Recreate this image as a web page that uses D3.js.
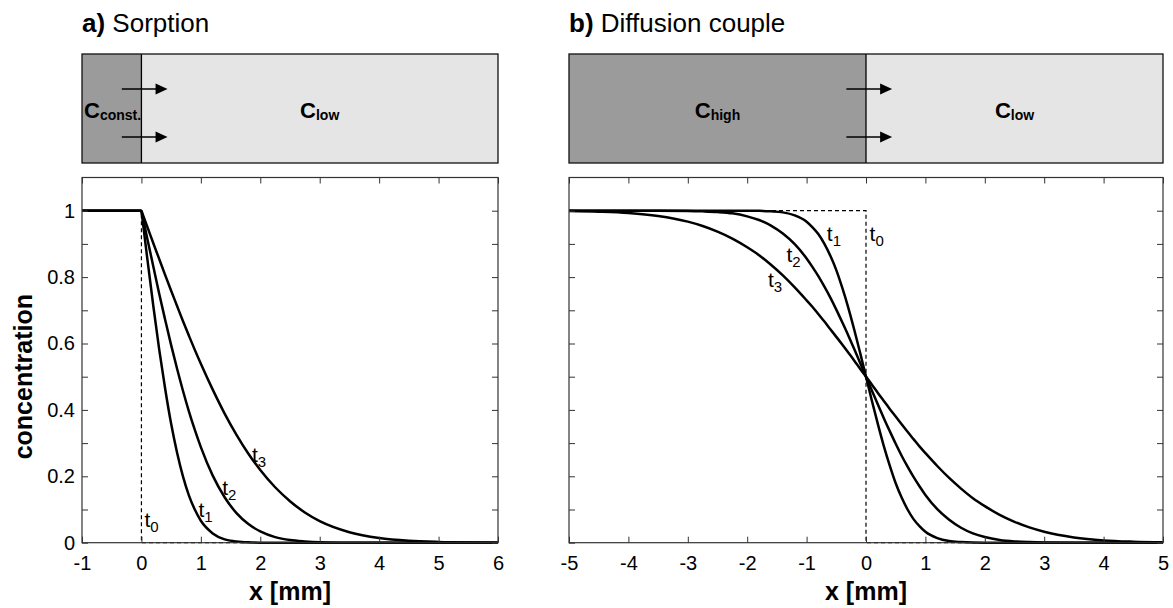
<!DOCTYPE html>
<html><head><meta charset="utf-8">
<script src="https://cdn.jsdelivr.net/npm/d3@7"></script>
<style>
body{margin:0;background:#fff}
text{font-family:Arial,"Liberation Sans",Helvetica,sans-serif;fill:#000}
</style>
</head><body>
<svg id="chart" width="1173" height="608"></svg>
<script>
// ---------- DATA ----------
// a) Sorption
const sorptionX  = [-1, 0, 0.1,0.2,0.3,0.4,0.5,0.6,0.7,0.8,0.9,1.0, 1.2,1.4,1.6,1.8,2.0, 2.25,2.5,2.75,3.0, 3.5,4.0,4.5,5.0,5.5,6.0];
const sorptionT1 = [1, 1, 0.854,0.713,0.581,0.463,0.358,0.271,0.199,0.142,0.099,0.066, 0.028,0.010,0.0036,0.0010,0.0002, 0.0001,0,0,0, 0,0,0,0,0,0];
const sorptionT2 = [1, 1, 0.915,0.832,0.749,0.671,0.595,0.524,0.457,0.395,0.339,0.288, 0.202,0.137,0.089,0.056,0.034, 0.0168,0.0079,0.0038,0.0015, 0.0002,0,0,0,0,0];
const sorptionT3 = [1, 1, 0.951,0.902,0.854,0.806,0.759,0.713,0.667,0.623,0.580,0.539, 0.461,0.389,0.325,0.268,0.219, 0.167,0.125,0.091,0.065, 0.0317,0.0141,0.0058,0.0023,0.0008,0.0002];
const sorptionT0X = [-1, 0, 0, 6];
const sorptionT0Y = [1, 1, 0, 0];

// b) Diffusion couple
const diffX  = [-5,-4.5,-4,-3.5,-3,-2.75,-2.5,-2.25,-2,-1.8,-1.6,-1.4,-1.2,-1,-0.9,-0.8,-0.7,-0.6,-0.5,-0.4,-0.3,-0.2,-0.1,0,
                0.1,0.2,0.3,0.4,0.5,0.6,0.7,0.8,0.9,1,1.2,1.4,1.6,1.8,2,2.25,2.5,2.75,3,3.5,4,4.5,5];
const diffT1 = [1,1,1,1,1,1,1,1,1,0.9995,0.998,0.995,0.986,0.967,0.950,0.929,0.900,0.864,0.821,0.768,0.709,0.643,0.573,0.5,
                0.427,0.357,0.291,0.232,0.179,0.136,0.100,0.071,0.050,0.033,0.014,0.005,0.002,0.0005,0.0001,0,0,0,0,0,0,0,0];
const diffT2 = [1,1,1,0.9999,0.9992,0.998,0.996,0.992,0.983,0.972,0.955,0.931,0.899,0.856,0.830,0.802,0.771,0.738,0.702,0.664,0.625,0.584,0.542,0.5,
                0.458,0.416,0.375,0.336,0.298,0.262,0.229,0.198,0.170,0.144,0.101,0.069,0.045,0.028,0.017,0.0084,0.004,0.0019,0.0008,0.0001,0,0,0];
const diffT3 = [0.999,0.997,0.993,0.984,0.967,0.954,0.937,0.916,0.890,0.866,0.837,0.805,0.769,0.730,0.710,0.688,0.666,0.643,0.620,0.597,0.573,0.549,0.524,0.5,
                0.476,0.451,0.427,0.403,0.380,0.357,0.334,0.312,0.290,0.270,0.231,0.195,0.163,0.134,0.110,0.084,0.063,0.046,0.033,0.016,0.007,0.003,0.001];
const diffT0X = [-5, 0, 0, 5];
const diffT0Y = [1, 1, 0, 0];

// ticks
const sorptionXTicks = [-1,0,1,2,3,4,5,6];
const diffXTicks = [-5,-4,-3,-2,-1,0,1,2,3,4,5];
const yTicks = [0,0.1,0.2,0.3,0.4,0.5,0.6,0.7,0.8,0.9,1.0];
const yTickLabels = ["0","","0.2","","0.4","","0.6","","0.8","","1"];

// curve labels (subscript, anchor in data units)
const sorptionLabelSub = ["0","1","2","3"];
const sorptionLabelX = [0.05, 0.96, 1.36, 1.86];
const sorptionLabelY = [0.048, 0.078, 0.144, 0.244];
const diffLabelSub = ["0","1","2","3"];
const diffLabelX = [0.06, -0.66, -1.34, -1.65];
const diffLabelY = [0.909, 0.909, 0.846, 0.771];

// ---------- DRAW ----------
const svg = d3.select("#chart");
const yTop = 177.5, yBottom = 542.7;
const y = d3.scaleLinear().domain([0, 1.1]).range([yBottom, yTop]);
const boxTop = 54, boxBottom = 163;

function zip(xs, ys){ return xs.map((v,i)=>[v, ys[i]]); }

function panel(opt){
  const x = d3.scaleLinear().domain(opt.domain).range(opt.range);
  const g = svg.append("g");

  // title
  const t = g.append("text").attr("x", opt.range[0]).attr("y", 32).attr("font-size", 26);
  t.append("tspan").attr("font-weight","bold").text(opt.titleBold);
  t.append("tspan").text(" " + opt.title);

  // schematic box
  g.append("rect").attr("x", x(opt.domain[0])).attr("y", boxTop)
    .attr("width", x(opt.domain[1]) - x(opt.domain[0])).attr("height", boxBottom-boxTop)
    .attr("fill", "#e5e5e5");
  g.append("rect").attr("x", x(opt.domain[0])).attr("y", boxTop)
    .attr("width", x(0) - x(opt.domain[0])).attr("height", boxBottom-boxTop)
    .attr("fill", "#9b9b9b");
  g.append("line").attr("x1", x(0)).attr("x2", x(0)).attr("y1", boxTop).attr("y2", boxBottom)
    .attr("stroke","#000").attr("stroke-width",1.3);
  g.append("rect").attr("x", x(opt.domain[0])).attr("y", boxTop)
    .attr("width", x(opt.domain[1]) - x(opt.domain[0])).attr("height", boxBottom-boxTop)
    .attr("fill", "none").attr("stroke","#111").attr("stroke-width",1.3);

  // arrows
  [89, 137].forEach(ay => {
    const x1 = x(-0.33), x2 = x(0.44);
    g.append("line").attr("x1", x1).attr("x2", x2 - 10).attr("y1", ay).attr("y2", ay)
      .attr("stroke","#000").attr("stroke-width",1.6);
    g.append("path").attr("d", `M${x2},${ay} L${x2-12},${ay-5.5} L${x2-12},${ay+5.5} Z`).attr("fill","#000");
  });

  // box labels
  opt.boxLabels.forEach(bl => {
    const tx = g.append("text").attr("x", bl.anchor === "start" ? x(opt.domain[0]) + 2 : x(bl.x))
      .attr("y", 118).attr("text-anchor", bl.anchor).attr("font-weight","bold").attr("font-size", 22);
    tx.append("tspan").text("C");
    tx.append("tspan").attr("font-size", 14).attr("dy", 2).text(bl.sub);
  });

  // t0 dashed
  g.append("path").datum(zip(opt.t0x, opt.t0y))
    .attr("d", d3.line().x(d=>x(d[0])).y(d=>y(d[1])))
    .attr("fill","none").attr("stroke","#000").attr("stroke-width",1.2).attr("stroke-dasharray","4,3");

  // curves
  opt.series.forEach(s => {
    const pts = zip(opt.xs, s);
    const flat = opt.flatStart ? pts.slice(0,2) : [];
    const rest = opt.flatStart ? pts.slice(1) : pts;
    if (flat.length) g.append("path").datum(flat)
      .attr("d", d3.line().x(d=>x(d[0])).y(d=>y(d[1])))
      .attr("fill","none").attr("stroke","#000").attr("stroke-width",2.5);
    g.append("path").datum(rest)
      .attr("d", d3.line().curve(d3.curveMonotoneX).x(d=>x(d[0])).y(d=>y(d[1])))
      .attr("fill","none").attr("stroke","#000").attr("stroke-width",2.5).attr("stroke-linejoin","round");
  });

  // curve labels
  opt.labSub.forEach((sub,i) => {
    const tx = g.append("text").attr("x", x(opt.labX[i])).attr("y", y(opt.labY[i])).attr("font-size", 21);
    tx.append("tspan").text("t");
    tx.append("tspan").attr("font-size", 15).attr("dy", 5).text(sub);
  });

  // axes (inward ticks on all sides)
  const ax = g.append("g").attr("transform", `translate(0,${yBottom})`)
    .call(d3.axisBottom(x).tickValues(opt.xTicks).tickSize(-6).tickPadding(13).tickFormat(d => String(d)));
  const axT = g.append("g").attr("transform", `translate(0,${yTop})`)
    .call(d3.axisTop(x).tickValues(opt.xTicks).tickSize(-6).tickFormat(""));
  const ay = g.append("g").attr("transform", `translate(${opt.range[0]},0)`)
    .call(d3.axisLeft(y).tickValues(yTicks).tickSize(-6).tickPadding(7)
      .tickFormat((d,i) => opt.yLabels ? yTickLabels[i] : ""));
  const ayR = g.append("g").attr("transform", `translate(${opt.range[1]},0)`)
    .call(d3.axisRight(y).tickValues(yTicks).tickSize(-6).tickFormat(""));
  [ax, axT, ay, ayR].forEach(a => {
    a.select(".domain").remove();
    a.selectAll(".tick line").attr("stroke","#333").attr("stroke-width",1);
    a.selectAll(".tick text").attr("font-size", 20).attr("font-family","Arial, 'Liberation Sans', sans-serif").attr("fill","#000");
  });

  // frame
  g.append("rect").attr("x", opt.range[0]).attr("y", yTop)
    .attr("width", opt.range[1]-opt.range[0]).attr("height", yBottom-yTop)
    .attr("fill","none").attr("stroke","#333").attr("stroke-width",1.2);

  // x label
  g.append("text").attr("x", (opt.range[0]+opt.range[1])/2).attr("y", 600)
    .attr("text-anchor","middle").attr("font-weight","bold").attr("font-size",25).text("x [mm]");
}

panel({
  domain: [-1, 6], range: [82, 498],
  titleBold: "a)", title: "Sorption",
  boxLabels: [{anchor:"start", sub:"const."}, {anchor:"middle", x:3, sub:"low"}],
  t0x: sorptionT0X, t0y: sorptionT0Y,
  xs: sorptionX, series: [sorptionT1, sorptionT2, sorptionT3], flatStart: true,
  labSub: sorptionLabelSub, labX: sorptionLabelX, labY: sorptionLabelY,
  xTicks: sorptionXTicks, yLabels: true
});
panel({
  domain: [-5, 5], range: [569, 1163],
  titleBold: "b)", title: "Diffusion couple",
  boxLabels: [{anchor:"middle", x:-2.5, sub:"high"}, {anchor:"middle", x:2.5, sub:"low"}],
  t0x: diffT0X, t0y: diffT0Y,
  xs: diffX, series: [diffT1, diffT2, diffT3], flatStart: false,
  labSub: diffLabelSub, labX: diffLabelX, labY: diffLabelY,
  xTicks: diffXTicks, yLabels: false
});

// y axis label
svg.append("text").attr("transform", `translate(32,${y(0.5)}) rotate(-90)`)
  .attr("text-anchor","middle").attr("font-weight","bold").attr("font-size",25).text("concentration");
</script>
</body></html>
